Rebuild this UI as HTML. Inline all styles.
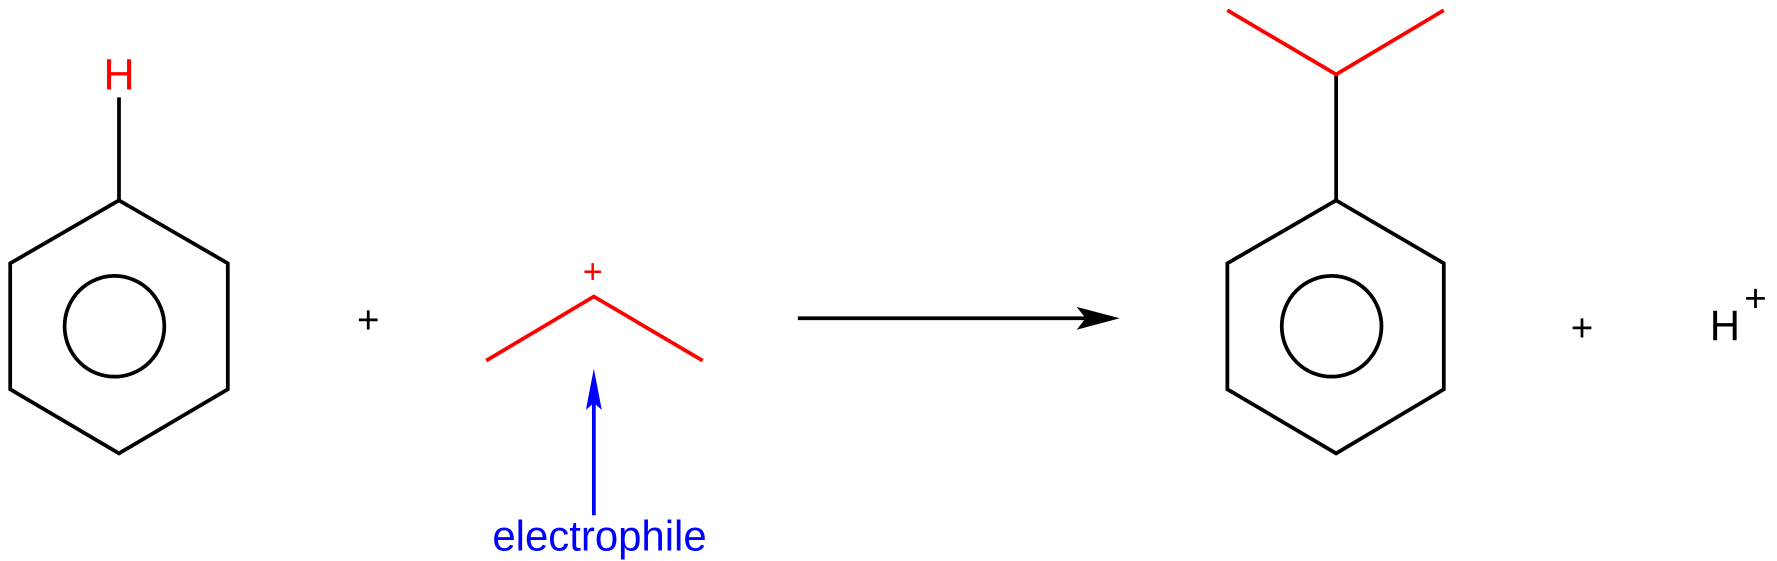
<!DOCTYPE html>
<html><head><meta charset="utf-8"><style>
html,body{margin:0;padding:0;background:#fff;width:1777px;height:561px;overflow:hidden}
svg{display:block}
text{font-family:"Liberation Sans",Arial,sans-serif}
</style></head><body>
<svg width="1777" height="561" viewBox="0 0 1568 490" preserveAspectRatio="none" xmlns="http://www.w3.org/2000/svg">
<g fill="none" stroke="#000" stroke-width="3.3" stroke-linejoin="miter">
<polygon points="105,175 201,230 201,340 105,396 9,340 9,230"/>
<circle cx="101" cy="285" r="44"/>
<line x1="105" y1="85" x2="105" y2="175"/>
<polygon points="1179,175 1274,230 1274,340 1179,396 1083,340 1083,230"/>
<circle cx="1175" cy="285" r="44"/>
<line x1="1179" y1="65" x2="1179" y2="175"/>
<line x1="704" y1="278" x2="958" y2="278"/>
</g>
<polygon points="988,278 950,268 958,278 950,288" fill="#000"/>
<g fill="none" stroke="#f00" stroke-width="3.3">
<polyline points="429,315 524,259 620,315"/>
<polyline points="1083,9 1179,65 1274,9"/>
</g>
<line x1="524" y1="450" x2="524" y2="350" stroke="#00f" stroke-width="3.3"/>
<polygon points="524,322 517,358 524,352 531,358" fill="#00f"/>
<text x="105" y="78" fill="#f00" font-size="38" text-anchor="middle">H</text>
<text x="523" y="247" fill="#f00" font-size="30" text-anchor="middle">+</text>
<text x="325" y="291" fill="#000" font-size="34" text-anchor="middle">+</text>
<text x="1396" y="298" fill="#000" font-size="34" text-anchor="middle">+</text>
<text x="1522" y="297" fill="#000" font-size="37" text-anchor="middle">H</text>
<text x="1549" y="272" fill="#000" font-size="34" text-anchor="middle">+</text>
<text x="529" y="481" fill="#00f" font-size="37" text-anchor="middle">electrophile</text>
</svg>
</body></html>
